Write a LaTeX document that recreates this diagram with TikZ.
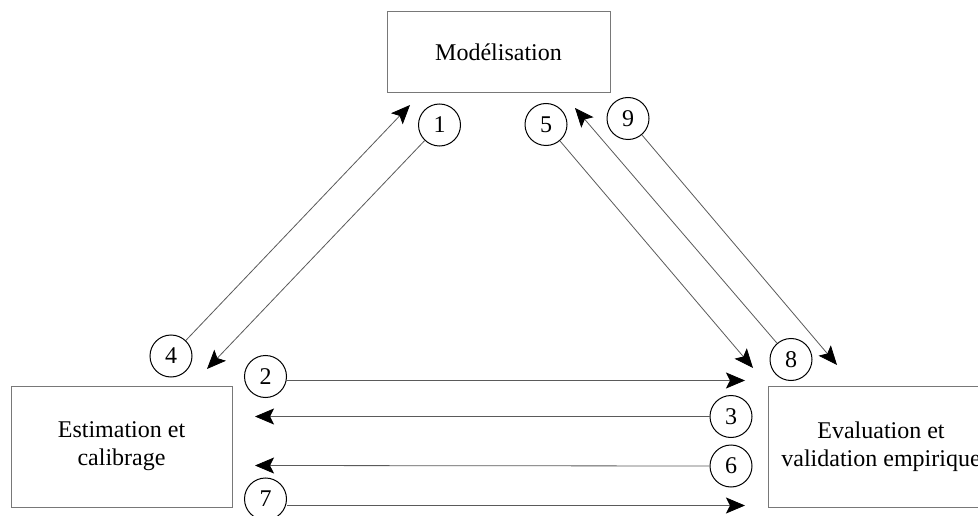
\documentclass[tikz,border=0pt]{standalone}
\usepackage{fontspec}
\setmainfont{Liberation Serif}
\usetikzlibrary{arrows.meta}
\definecolor{boxgray}{RGB}{120,120,120}
\definecolor{linegray}{RGB}{90,90,90}
\begin{document}
\begin{tikzpicture}[x=1pt,y=-1pt,
  box/.style={draw=boxgray, line width=1pt, inner sep=0pt, align=center,
    font=\fontsize{24}{28}\selectfont, text=black},
  num/.style={circle, draw=black, line width=1pt, minimum size=42pt, inner sep=0pt,
    font=\fontsize{24}{24}\selectfont},
  link/.style={draw=linegray, line width=0.8pt,
    -{Stealth[length=19pt,width=16pt,inset=4pt,color=black]}}
]
\clip (0,0) rectangle (978,516);
\fill[white] (0,0) rectangle (978,516);

% boxes
\node[box, minimum width=223pt, minimum height=81pt] (M) at (498.5,52.5) {Modélisation};
\node[box, minimum width=221pt, minimum height=121pt] (E) at (121.5,446.5) {Estimation et\\calibrage};
\node[box, minimum width=226pt, minimum height=121pt] (V) at (881,446.5) {Evaluation et\\validation empirique};

% numbered circles
\node[num] (c1) at (439.5,125) {1};
\node[num] (c2) at (265.5,376.5) {2};
\node[num] (c3) at (731,416.5) {3};
\node[num] (c4) at (171,356) {4};
\node[num] (c5) at (546,124.5) {5};
\node[num] (c6) at (731,466) {6};
\node[num] (c7) at (265.5,499) {7};
\node[num] (c8) at (791,359.5) {8};
\node[num] (c9) at (628,118.5) {9};

% free arrow ends
\coordinate (t1) at (207,369);
\coordinate (t4) at (410,105);
\coordinate (t5) at (753,368);
\coordinate (t8) at (575,108);
\coordinate (t9) at (837,365);
\coordinate (t2) at (745,380.5);
\coordinate (t3) at (255,416.5);
\coordinate (t6) at (255,465.5);
\coordinate (t7) at (745,505.5);

% connectors
\draw[link] (c1) -- (t1);
\draw[link] (c4) -- (t4);
\draw[link] (c5) -- (t5);
\draw[link] (c8) -- (t8);
\draw[link] (c9) -- (t9);
\draw[link] (c2.east |- t2) -- (t2);
\draw[link] (c3.west) -- (t3);
\draw[link] (c6.west) -- (t6);
\draw[link] (c7.east |- t7) -- (t7);
\end{tikzpicture}
\end{document}
